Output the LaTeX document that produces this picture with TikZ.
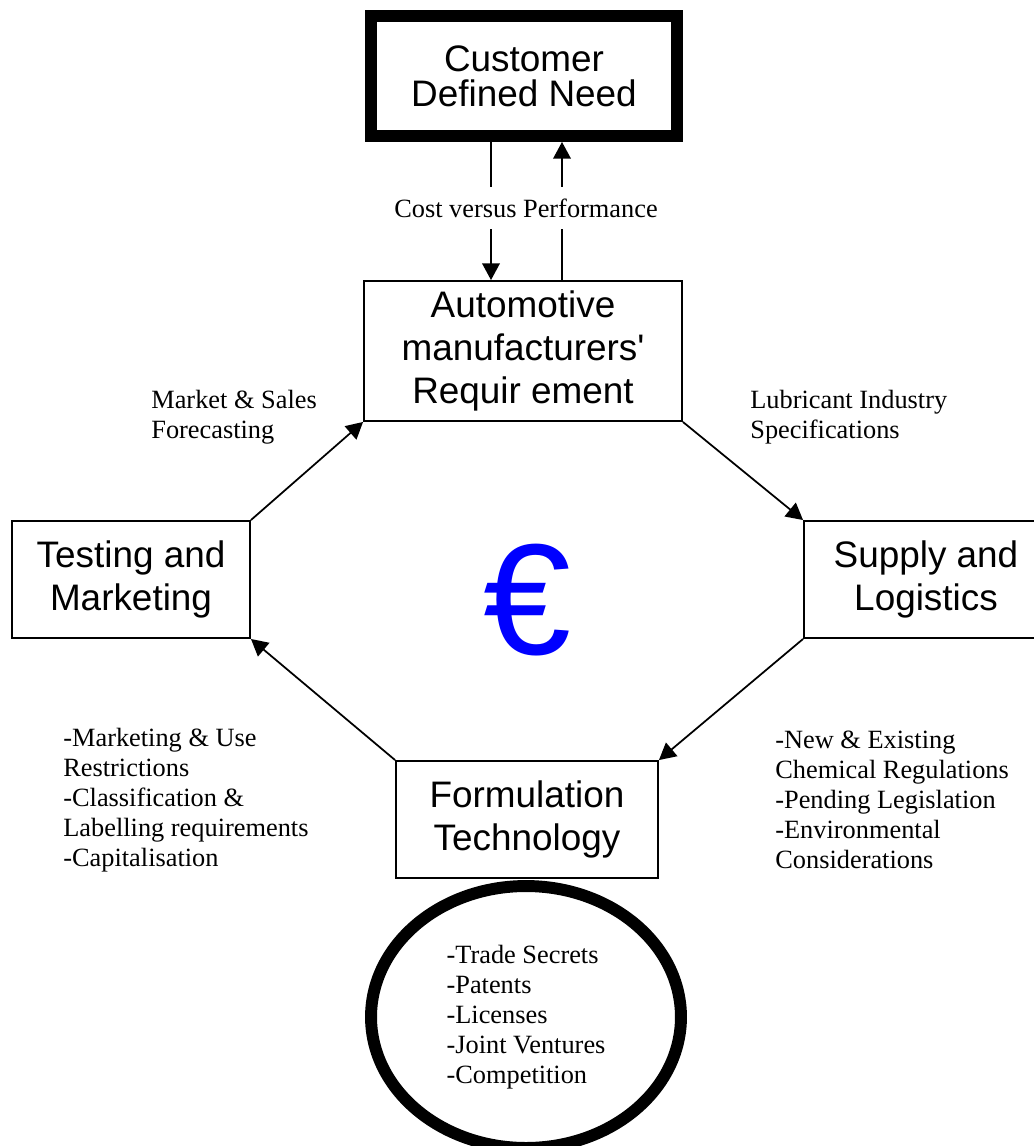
\documentclass[tikz,border=0pt]{standalone}
\usepackage{fontspec}
\setmainfont{Liberation Serif}
\newfontfamily\arialfont{Liberation Sans}
\usepackage{tikz}
\usetikzlibrary{arrows.meta,shapes.geometric,positioning}

\begin{document}
\begin{tikzpicture}[
    x=0.02cm,
    y=-0.02cm,
    box/.style={draw, line width=1.1pt, align=center,
        font=\arialfont\fontsize{21}{24.4}\selectfont},
    heavy/.style={line width=6.8pt},
    note/.style={align=left, inner sep=0pt, font=\fontsize{15}{17}\selectfont},
    link/.style={-{Triangle[length=9.5pt,width=10pt]}, line width=1pt}
]
    % Page area
    \clip (0,0) rectangle (1034,1146);

    % Boxes
    \node[box, heavy, minimum width=6.12cm, minimum height=2.4cm,
        font=\arialfont\fontsize{21}{20}\selectfont] (need) at (524,76)
        {Customer\\Defined Need};
    \node[box, minimum width=6.36cm, minimum height=2.8cm] (auto) at (523,351)
        {Automotive\\manufacturers'\\Requir ement};
    \node[box, minimum width=4.76cm, minimum height=2.34cm] (test) at (131,579.5)
        {Testing and\\Marketing};
    \node[box, minimum width=4.88cm, minimum height=2.34cm] (supply) at (926,579.5)
        {Supply and\\Logistics};
    \node[box, minimum width=5.24cm, minimum height=2.34cm] (form) at (527,819.5)
        {Formulation\\Technology};

    % Ring below the formulation box
    \node[draw, heavy, ellipse, minimum width=6.2cm, minimum height=5.24cm,
        note] (ip) at (526,1017)
        {-Trade Secrets\\-Patents\\-Licenses\\-Joint Ventures\\-Competition};

    % Euro sign
    \node[text=blue, font=\arialfont\fontsize{90}{90}\selectfont] (euro) at (527,600) {€};

    % Up and down links
    \coordinate (dl) at (491,0);
    \coordinate (ul) at (562,0);
    \draw[link] (need.south -| dl) -- (auto.north -| dl);
    \draw[link] (auto.north -| ul) -- (need.south -| ul);
    \node[note, fill=white, inner xsep=2pt, inner ysep=0.24cm] (cost) at (526,208)
        {Cost versus Performance};

    % Cycle
    \draw[link] (test.north east) -- (auto.south west);
    \draw[link] (auto.south east) -- (supply.north west);
    \draw[link] (supply.south west) -- (form.north east);
    \draw[link] (form.north west) -- (test.south east);

    % Labels
    \node[note, anchor=west] (market) at (151,417) {Market \& Sales\\Forecasting};
    \node[note, anchor=west] (lub) at (750,417) {Lubricant Industry\\Specifications};
    \node[note, anchor=west] (rules) at (63,800)
        {-Marketing \& Use\\Restrictions\\-Classification \&\\Labelling requirements\\-Capitalisation};
    \node[note, anchor=west] (law) at (775,800)
        {-New \& Existing\\Chemical Regulations\\-Pending Legislation\\-Environmental\\Considerations};
\end{tikzpicture}
\end{document}
